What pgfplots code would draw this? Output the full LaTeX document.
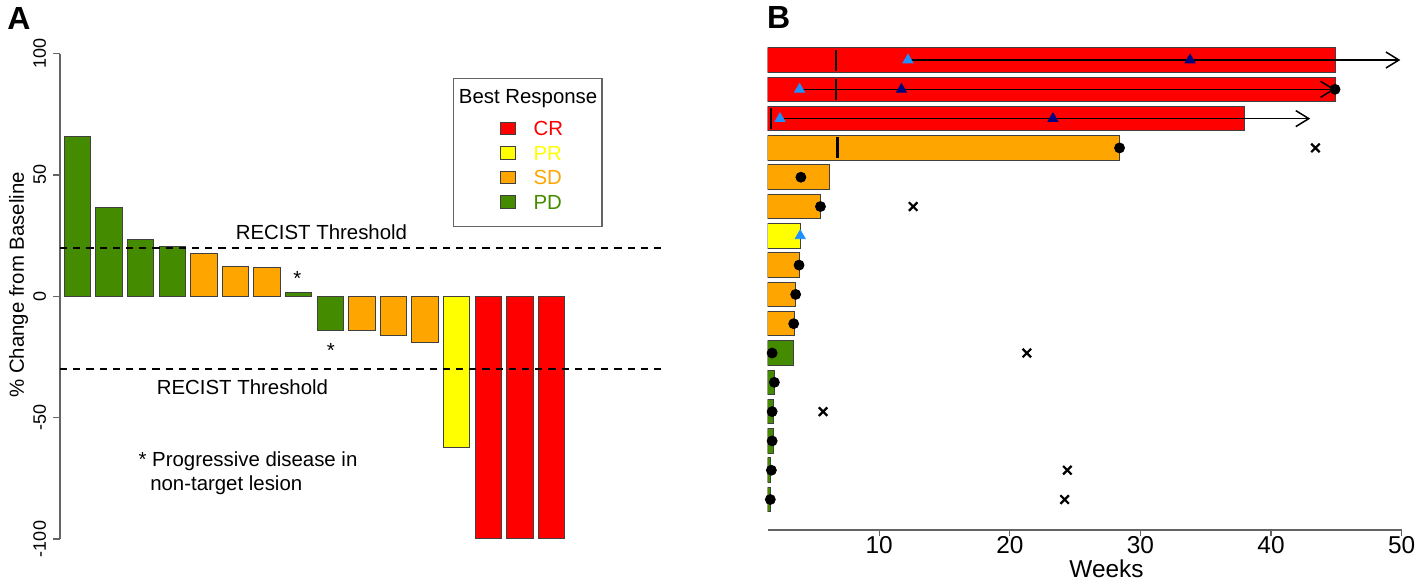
\documentclass[border=0pt]{standalone}
\usepackage{fontspec}
\setmainfont{Liberation Sans}
\usepackage{pgfplots}
\pgfplotsset{compat=1.18}
\usetikzlibrary{arrows.meta}
\definecolor{cCR}{RGB}{255,0,0}
\definecolor{cPR}{RGB}{255,255,0}
\definecolor{cSD}{RGB}{255,165,0}
\definecolor{cPD}{RGB}{69,139,0}
\definecolor{cLB}{RGB}{30,144,255}
\definecolor{cNV}{RGB}{0,0,128}
\definecolor{axgray}{RGB}{100,100,100}
\newcommand{\fs}[1]{\fontsize{#1}{#1}\selectfont}

\begin{document}
\begin{tikzpicture}
\path (0,0) rectangle (709pt,291pt);
\node[anchor=base west, inner sep=0pt, font=\fs{16}\bfseries] at (3.5pt,276pt) {A};
\node[anchor=base west, inner sep=0pt, font=\fs{16}\bfseries] at (383.3pt,276.5pt) {B};

% panel A: waterfall
\begin{axis}[
  at={(30pt,21.5pt)}, anchor=south west,
  x=15.8pt, y=1.2135pt,
  xmin=0.446, xmax=19.59, ymin=-100, ymax=100,
  clip=false,
  axis x line=none, axis y line*=left,
  y axis line style={-, draw=axgray, line width=0.6pt},
  ytick={-100,-50,0,50,100},
  yticklabels={-100,-50,0,50,100},
  tick align=outside, major tick length=3.3pt,
  ytick style={draw=axgray, line width=0.6pt},
  yticklabel style={rotate=90, anchor=south, inner sep=0pt, font=\fs{9}},
  yticklabel shift=3.5pt,
  ylabel={\% Change from Baseline},
  ylabel style={at={(axis description cs:-0.052,0.5237)}, anchor=south, inner sep=0pt, font=\fs{10.2}},
  legend style={at={(axis cs:15.37,54)}, anchor=center, draw=none, fill=none,
    inner sep=0pt, font=\fs{10.2}, row sep=4.85pt, column sep=8.65pt,
    nodes={inner sep=0pt, text height=7.4pt, text depth=0pt}},
  legend cell align=left,
  legend image code/.code={\draw[#1,/tikz/.cd,draw=black!75,line width=0.5pt] (0pt,-3.2pt) rectangle (7.5pt,3.2pt);},
]
\addplot[ybar, bar width=13.25pt, bar shift=0pt, fill=cCR, draw=black!75, line width=0.5pt]
  coordinates {(14,-100) (15,-100) (16,-100)};
\addlegendentry{\textcolor{cCR}{CR}}
\addplot[ybar, bar width=13.25pt, bar shift=0pt, fill=cPR, draw=black!75, line width=0.5pt]
  coordinates {(13,-62.1)};
\addlegendentry{\textcolor{cPR}{PR}}
\addplot[ybar, bar width=13.25pt, bar shift=0pt, fill=cSD, draw=black!75, line width=0.5pt]
  coordinates {(5,17.8) (6,12.1) (7,11.7) (10,-14.3) (11,-16.3) (12,-19.1)};
\addlegendentry{\textcolor{cSD}{SD}}
\addplot[ybar, bar width=13.25pt, bar shift=0pt, fill=cPD, draw=black!75, line width=0.5pt]
  coordinates {(1,65.7) (2,36.5) (3,23.5) (4,20.6) (8,1.6) (9,-14.3)};
\addlegendentry{\textcolor{cPD}{PD}}
% RECIST thresholds
\addplot[forget plot, black, line width=1pt, dash pattern=on 3.6pt off 3pt] coordinates {(0.446,20) (19.59,20)};
\addplot[forget plot, black, line width=1pt, dash pattern=on 3.6pt off 3pt] coordinates {(0.446,-30) (19.59,-30)};
\node[anchor=base, inner sep=0pt, font=\fs{10.2}] at (axis cs:8.72,23.4) {RECIST Threshold};
\node[anchor=base, inner sep=0pt, font=\fs{10.2}] at (axis cs:6.22,-40.5) {RECIST Threshold};
\node[anchor=base, inner sep=0pt, font=\fs{10.2}] at (axis cs:7.96,4.5) {*};
\node[anchor=base, inner sep=0pt, font=\fs{10.2}] at (axis cs:9.02,-25.4) {*};
\node[anchor=base west, inner sep=0pt, font=\fs{10.2}] at (axis cs:2.92,-70.3) {* Progressive disease in};
\node[anchor=base west, inner sep=0pt, font=\fs{10.2}] at (axis cs:3.29,-80.2) {non-target lesion};
% legend frame and title
\draw[draw=axgray, line width=0.7pt] (axis cs:12.905,89.8) rectangle (axis cs:17.598,28.84);
\node[anchor=base, inner sep=0pt, font=\fs{10.2}] at (axis cs:15.26,79.4) {Best Response};
\end{axis}

% panel B: swimmer plot
\begin{axis}[
  at={(383.85pt,26pt)}, anchor=south west,
  x=6.53pt, y=14.65pt,
  xmin=1.46, xmax=50, ymin=-0.04, ymax=16.43,
  axis y line=none, axis x line*=bottom,
  x axis line style={-, draw=axgray, line width=0.6pt},
  xtick={10,20,30,40,50}, xticklabels={10,20,30,40,50},
  tick align=outside, major tick length=3pt,
  xtick style={draw=axgray, line width=0.6pt},
  xticklabel style={anchor=north, inner sep=0pt, font=\fs{12.2}},
  xlabel={Weeks},
  xlabel style={at={(axis description cs:0.5344,-0.0981)}, anchor=base, inner sep=0pt, font=\fs{12.2}},
]
\addplot[xbar, bar width=12.25pt, bar shift=0pt, fill=cCR, draw=black!75, line width=0.5pt]
  coordinates {(44.9,16) (44.9,15) (38.0,14)};
\addplot[xbar, bar width=12.25pt, bar shift=0pt, fill=cSD, draw=black!75, line width=0.5pt]
  coordinates {(28.4,13) (6.2,12) (5.5,11) (3.9,9) (3.6,8) (3.5,7)};
\addplot[xbar, bar width=12.25pt, bar shift=0pt, fill=cPR, draw=black!75, line width=0.5pt]
  coordinates {(4.0,10)};
\addplot[xbar, bar width=12.25pt, bar shift=0pt, fill=cPD, draw=black!75, line width=0.5pt]
  coordinates {(3.4,6) (1.95,5) (1.9,4) (1.87,3) (1.66,2) (1.64,1)};
% ongoing response arrows
\addplot[black, line width=0.75pt, -{Straight Barb[length=6.5pt,width=8pt]}] coordinates {(12.2,16) (49.9,16)};
\addplot[black, line width=0.75pt, -{Straight Barb[length=6.5pt,width=8pt]}] coordinates {(3.9,15) (44.9,15)};
\addplot[black, line width=0.75pt, -{Straight Barb[length=6.5pt,width=8pt]}] coordinates {(2.4,14) (43.0,14)};
% vertical markers
\addplot[only marks, black, mark=|, mark size=5.25pt, mark options={line width=1.1pt}]
  coordinates {(6.7,16) (6.7,15) (1.7,14) (6.8,13)};
% first response / best response
\addplot[only marks, cLB, mark=triangle*, mark size=2.9pt]
  coordinates {(12.2,16) (3.9,15) (2.4,14) (3.95,10)};
\addplot[only marks, cNV, mark=triangle*, mark size=2.9pt]
  coordinates {(33.8,16) (11.7,15) (23.3,14)};
% off treatment
\addplot[only marks, black, mark=*, mark size=2.5pt]
  coordinates {(44.9,15) (28.4,13) (4.0,12) (5.5,11) (3.86,9) (3.6,8) (3.45,7)
               (1.8,6) (1.97,5) (1.8,4) (1.8,3) (1.74,2) (1.66,1)};
% death
\addplot[only marks, black, mark=x, mark size=3pt, mark options={line width=1.1pt}]
  coordinates {(43.4,13) (12.6,11) (21.3,6) (5.7,4) (24.4,2) (24.2,1)};
\end{axis}
\end{tikzpicture}
\end{document}
